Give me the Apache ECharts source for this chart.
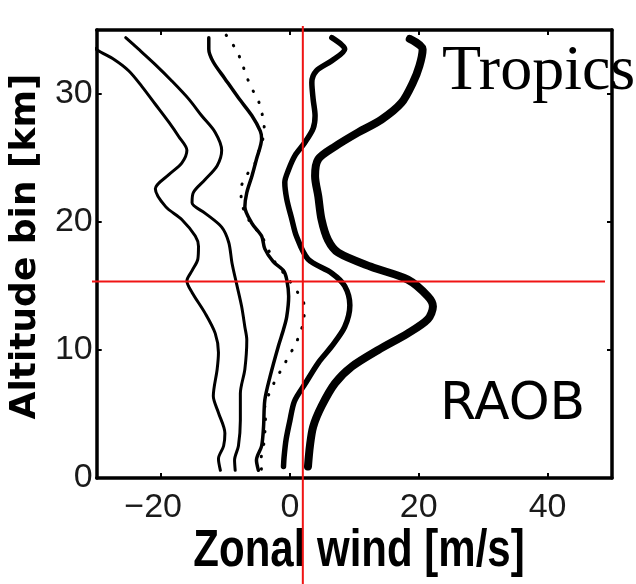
<!DOCTYPE html>
<html>
<head>
<meta charset="utf-8">
<script src="https://cdn.jsdelivr.net/npm/echarts@6/dist/echarts.min.js"></script>
<style>
  html, body { margin: 0; padding: 0; background: #fff; }
  #chart { width: 636px; height: 584px; }
</style>
</head>
<body>
<div id="chart"></div>
<script>
// Zonal wind profiles over the tropics (radiosonde), altitude in km, wind in m/s
const xTicks = [-20, 0, 20, 40];
const yTicks = [0, 10, 20, 30];

const altP05 = [34.5, 33.4, 32.7, 31.8, 30.6, 29.2, 27.8, 26.7, 25.6, 24.6, 23.7, 22.6, 21.2, 20.2, 18.9, 18.1, 17.1, 16.2, 15.4, 14.5, 12.9, 11.3, 9.8, 8.5, 6.4, 5.1, 3.5, 2.5, 1.5, 0.6];
const windP05 = [-33.0, -29.8, -27.3, -25.0, -23.0, -20.9, -18.8, -17.3, -16.0, -16.8, -18.8, -20.9, -19.3, -16.8, -14.7, -14.2, -14.3, -15.2, -16.0, -15.2, -13.2, -11.6, -11.1, -11.3, -11.9, -11.1, -10.1, -10.3, -11.1, -10.8];

const altP25 = [34.4, 33.5, 32.3, 31.0, 29.6, 28.3, 27.0, 25.6, 24.4, 23.3, 22.3, 21.5, 20.7, 19.6, 18.4, 16.8, 15.2, 13.4, 11.8, 10.8, 8.5, 6.6, 4.5, 2.5, 1.4, 0.6];
const windP25 = [-25.5, -23.5, -20.9, -18.3, -15.7, -13.7, -11.6, -10.6, -11.3, -13.2, -15.0, -15.2, -13.2, -10.6, -9.5, -9.0, -8.3, -7.5, -7.0, -6.7, -7.0, -7.7, -7.7, -8.0, -8.6, -8.5];

const altMedian = [34.4, 33.5, 32.5, 31.2, 29.7, 28.3, 27.1, 26.5, 24.9, 23.6, 22.3, 21.2, 19.9, 18.9, 17.9, 16.9, 16.2, 15.5, 14.2, 12.6, 11.6, 10.3, 7.9, 6.1, 4.0, 2.5, 1.4, 0.6];
const windMedian = [-12.6, -12.6, -11.9, -10.1, -8.0, -5.9, -4.6, -4.4, -5.2, -5.9, -6.7, -7.0, -5.9, -4.4, -3.9, -2.6, -1.0, -0.5, -0.2, -0.5, -1.0, -1.8, -3.1, -3.9, -4.1, -4.4, -5.2, -4.9];

const altMean = [34.6, 33.5, 32.5, 31.6, 30.5, 29.6, 28.6, 27.5, 26.5, 25.3, 24.5, 23.6, 22.6, 21.5, 20.0, 18.9, 17.0, 15.7, 14.5, 13.5, 12.5, 11.5, 10.5, 9.5, 8.5, 7.5, 6.5, 5.6, 4.5, 3.5, 2.5, 1.4, 0.5];
const windMean = [-9.9, -8.4, -7.5, -6.9, -6.0, -5.0, -4.4, -4.0, -4.2, -5.0, -5.5, -6.8, -7.6, -7.5, -6.2, -4.4, -2.5, -0.5, 1.2, 2.2, 2.2, 1.7, 0.9, -0.2, -1.3, -2.4, -3.3, -3.9, -3.8, -3.9, -4.1, -4.5, -4.4];

const altP75 = [34.4, 33.5, 32.6, 31.8, 30.9, 29.6, 28.3, 27.3, 26.2, 25.2, 24.1, 23.1, 21.8, 20.2, 18.9, 17.1, 16.0, 15.0, 13.5, 11.8, 10.3, 9.0, 7.4, 6.0, 4.5, 3.0, 1.7, 0.9];
const windP75 = [6.5, 8.5, 6.5, 4.1, 3.4, 3.6, 3.9, 3.6, 2.3, 0.8, -0.2, -0.8, -0.5, 0.3, 1.0, 2.8, 6.5, 8.5, 9.3, 8.5, 6.5, 4.4, 2.4, 0.7, 0.0, -0.6, -0.9, -1.0];

const altP95 = [34.3, 33.5, 32.2, 30.9, 29.3, 28.0, 27.0, 25.9, 24.9, 23.6, 22.0, 20.2, 18.6, 17.6, 16.5, 15.5, 14.2, 13.4, 12.4, 11.3, 10.0, 8.7, 7.4, 5.6, 4.0, 2.5, 0.9];
const windP95 = [18.6, 20.6, 20.1, 19.1, 17.3, 14.2, 10.6, 7.0, 4.4, 3.9, 4.4, 4.9, 5.9, 7.5, 12.6, 18.3, 21.4, 22.2, 21.4, 18.3, 13.7, 9.6, 7.0, 4.9, 3.6, 3.1, 2.8];

// reference markers: wind speed and tropopause height
const refWind = 2;
const refAltitude = 15.35;

const pairs = (w, a) => w.map((v, i) => [v, a[i]]);

const tickFont = "'Liberation Sans', 'Helvetica', Arial, sans-serif";

const profile = (name, w, a, width, type) => ({
  name,
  type: 'line',
  data: pairs(w, a),
  smooth: 0.3,
  symbol: 'none',
  clip: true,
  lineStyle: { color: '#000', width, type: type || 'solid', cap: 'round', join: 'round' },
  z: 3
});

const chart = echarts.init(document.getElementById('chart'), null, { renderer: 'canvas' });

const boxAxisLine = { show: true, onZero: false, lineStyle: { color: '#000', width: 3.5 } };
const boxTick = ticks => ({ show: true, inside: true, length: 5, customValues: ticks, lineStyle: { color: '#000', width: 2 } });

chart.setOption({
  animation: false,
  backgroundColor: '#fff',
  grid: { left: 95, top: 30, right: 24, bottom: 106, containLabel: false },
  xAxis: [
    {
      type: 'value', min: -30, max: 50, position: 'bottom',
      axisLine: boxAxisLine,
      axisTick: boxTick(xTicks),
      axisLabel: {
        customValues: xTicks, margin: 13, fontFamily: tickFont, fontSize: 34, color: '#1a1a1a',
        formatter: v => v < 0 ? '\u2212' + Math.abs(v) + '{pad|}' : String(v),
        rich: { pad: { width: 16 } }
      },
      splitLine: { show: false }
    },
    {
      type: 'value', min: -30, max: 50, position: 'top',
      axisLine: boxAxisLine,
      axisTick: boxTick(xTicks),
      axisLabel: { show: false },
      splitLine: { show: false }
    }
  ],
  yAxis: [
    {
      type: 'value', min: 0, max: 35, position: 'left',
      name: 'Altitude bin [km]', nameLocation: 'middle', nameGap: 45, nameRotate: 90,
      nameTextStyle: { fontFamily: "'DejaVu Sans', sans-serif", fontWeight: 'bold', fontSize: 36, color: '#000', padding: [0, 0, 0, 15] },
      axisLine: boxAxisLine,
      axisTick: boxTick(yTicks),
      axisLabel: { customValues: yTicks, margin: 4, fontFamily: tickFont, fontSize: 34, color: '#1a1a1a' },
      splitLine: { show: false }
    },
    {
      type: 'value', min: 0, max: 35, position: 'right',
      axisLine: boxAxisLine,
      axisTick: boxTick(yTicks),
      axisLabel: { show: false },
      splitLine: { show: false }
    }
  ],
  series: [
    profile('5th percentile', windP05, altP05, 3),
    profile('25th percentile', windP25, altP25, 3),
    profile('median', windMedian, altMedian, 3.5),
    profile('mean', windMean, altMean, 3, [0.5, 12]),
    profile('75th percentile', windP75, altP75, 5.5),
    profile('95th percentile', windP95, altP95, 8)
  ]
});

// overlay: x-axis title (drawn a little taller than wide), reference lines and panel labels
const px = chart.convertToPixel({ xAxisIndex: 0 }, refWind);
const py = chart.convertToPixel({ yAxisIndex: 0 }, refAltitude);
chart.setOption({
  graphic: [
    {
      type: 'text', x: 359, y: 578, scaleY: 1.23, z: 50,
      style: { text: 'Zonal wind [m/s]', font: "bold 42px 'Liberation Sans', sans-serif", fill: '#000', align: 'center', verticalAlign: 'bottom' }
    },
    { type: 'line', shape: { x1: px, y1: 26, x2: px, y2: 584 }, style: { stroke: '#f01414', lineWidth: 2 }, z: 100 },
    { type: 'line', shape: { x1: 92, y1: py, x2: 605, y2: py }, style: { stroke: '#f01414', lineWidth: 2 }, z: 100 },
    { type: 'text', left: 442, top: 40, style: { text: 'Tropics', font: "64px 'Liberation Serif', serif", fill: '#000' }, z: 50 },
    { type: 'text', left: 440, top: 379, style: { text: 'RAOB', font: "52px 'DejaVu Sans', sans-serif", fill: '#000' }, z: 50 }
  ]
});
</script>
</body>
</html>
